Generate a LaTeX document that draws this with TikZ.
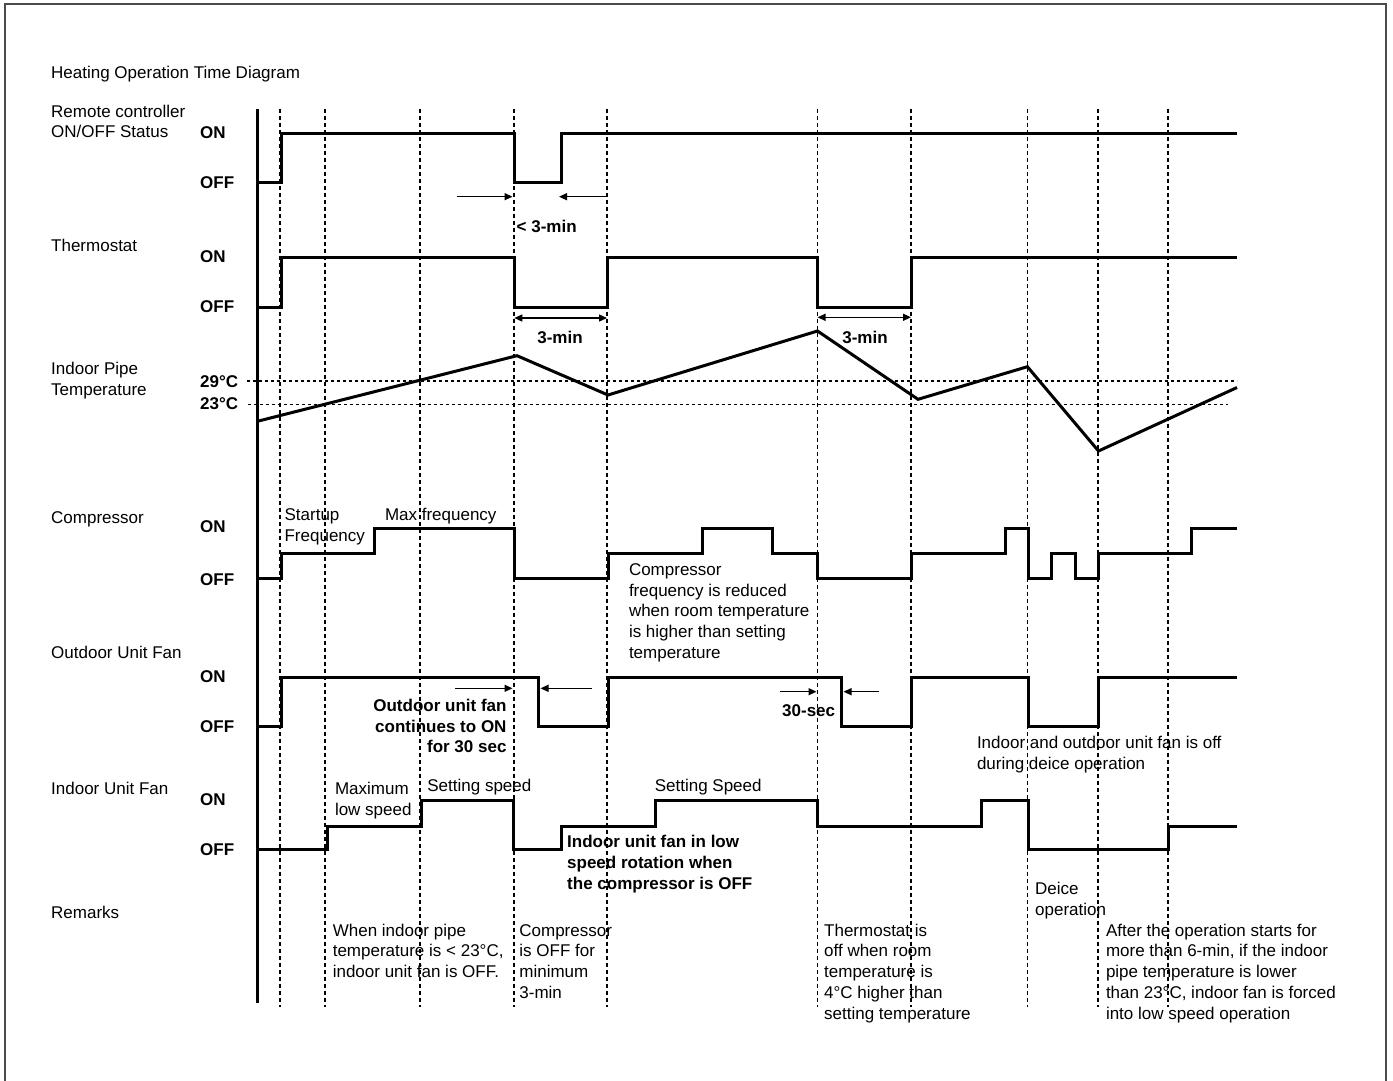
\documentclass[tikz,border=0pt]{standalone}
\usepackage{fontspec}
\setmainfont{Liberation Sans}
\usetikzlibrary{arrows.meta}
\newcommand\tfs{\fontsize{17}{20.7}\selectfont}
\newcommand\lst{\rule{0pt}{14.5pt}}
\begin{document}
\begin{tikzpicture}[x=1pt,y=-1pt,
  sig/.style={line width=3pt},
  gridline/.style={line width=1.1pt,dash pattern=on 4pt off 3pt},
  thr/.style={line width=1.3pt,dash pattern=on 3pt off 3pt},
  dim/.style={line width=1.3pt,-{Triangle[length=8pt,width=7pt]}},
  dimb/.style={line width=1.3pt,{Triangle[length=8pt,width=7pt]}-{Triangle[length=8pt,width=7pt]}},
  lab/.style={anchor=base west,inner sep=0pt,font=\tfs},
  blab/.style={anchor=base west,inner sep=0pt,font=\tfs\bfseries},
  ml/.style={anchor=north west,inner sep=0pt,align=left,font=\tfs},
  bml/.style={anchor=north west,inner sep=0pt,align=left,font=\tfs\bfseries}]
\useasboundingbox (0,0) rectangle (1393,1080);
\fill[white] (0,0) rectangle (1393,1080);
% frame
\draw[line width=2pt,draw=black!70] (4.5,1082) -- (4.5,4) -- (1385.5,4) -- (1385.5,1082);
% grid lines
\foreach \gx in {280,325,420,514,607,817.5,911,1027.5,1098,1168}
  \draw[gridline] (\gx,108.5) -- (\gx,1007);
% threshold lines
\draw[thr] (247,381) -- (1237,381);
\draw[thr] (248,404.5) -- (1228,404.5);
% axis
\draw[line width=3pt] (257.3,109) -- (257.3,1003.3);
% titles
\node[lab] (title) at (51,78.7) {Heating Operation Time Diagram};
\node[ml] (lremote) at (51,102.5) {\lst Remote controller\\\lst ON/OFF Status};
\node[lab] (lthermo) at (51,251) {Thermostat};
\node[ml] (lpipe) at (51,359.8) {\lst Indoor Pipe\\\lst Temperature};
\node[lab] (lcomp) at (51,523.3) {Compressor};
\node[lab] (lout) at (51,658) {Outdoor Unit Fan};
\node[lab] (lin) at (51,794.3) {Indoor Unit Fan};
\node[lab] (lrem) at (51,918.3) {Remarks};
% ON/OFF labels
\node[blab] (ron) at (200,138.3) {ON};
\node[blab] (roff) at (200,188.7) {OFF};
\node[blab] (ton) at (200,262) {ON};
\node[blab] (toff) at (200,312.7) {OFF};
\node[blab] (t29) at (200,387.7) {29°C};
\node[blab] (t23) at (200,409.3) {23°C};
\node[blab] (con) at (200,532.7) {ON};
\node[blab] (coff) at (200,585) {OFF};
\node[blab] (oon) at (200,682) {ON};
\node[blab] (ooff) at (200,732.7) {OFF};
\node[blab] (ion) at (200,805) {ON};
\node[blab] (ioff) at (200,855.3) {OFF};
% waveforms
\draw[sig] (257.3,182.7) -- (281,182.7) -- (281,133.3) -- (514.3,133.3) -- (514.3,182.7) -- (561,182.7) -- (561,133.3) -- (1237.3,133.3);
\draw[sig] (257.3,307) -- (281,307) -- (281,257) -- (514.3,257) -- (514.3,307) -- (607.5,307) -- (607.5,257) -- (817.5,257) -- (817.5,307) -- (911.5,307) -- (911.5,257) -- (1237.3,257);
\draw[sig] (257.3,421.3) -- (517,355.7) -- (608,395) -- (817.5,331) -- (918,399.3) -- (1027.4,366.7) -- (1098.5,451) -- (1237,387.5);
\draw[sig] (257.3,578.5) -- (281,578.5) -- (281,553.5) -- (374,553.5) -- (374,528.7) -- (514.3,528.7) -- (514.3,578.5) -- (608,578.5) -- (608,553.5) -- (702.2,553.5) -- (702.2,528.7) -- (772,528.7) -- (772,553.5) -- (817.5,553.5) -- (817.5,578.5) -- (911.6,578.5) -- (911.6,553.5) -- (1005.2,553.5) -- (1005.2,528.7) -- (1028,528.7) -- (1028,578.5) -- (1051,578.5) -- (1051,553.5) -- (1075,553.5) -- (1075,578.5) -- (1098.5,578.5) -- (1098.5,553.5) -- (1191.3,553.5) -- (1191.3,528.7) -- (1237.3,528.7);
\draw[sig] (257.3,726.5) -- (281,726.5) -- (281,677.5) -- (538.8,677.5) -- (538.8,726.5) -- (608,726.5) -- (608,677.5) -- (841.8,677.5) -- (841.8,726.5) -- (911.6,726.5) -- (911.6,677.5) -- (1028,677.5) -- (1028,726.5) -- (1098.5,726.5) -- (1098.5,677.5) -- (1237.3,677.5);
\draw[sig] (257.3,849.3) -- (327.2,849.3) -- (327.2,826) -- (421,826) -- (421,800.5) -- (513.4,800.5) -- (513.4,849.3) -- (561,849.3) -- (561,826) -- (655,826) -- (655,800.5) -- (817.5,800.5) -- (817.5,826) -- (981.4,826) -- (981.4,800.5) -- (1028,800.5) -- (1028,849.3) -- (1168.5,849.3) -- (1168.5,826) -- (1237.3,826);
% dimension arrows
\coordinate (r1a) at (456.7,196.7); \coordinate (r1b) at (512.5,196.7);
\coordinate (r2a) at (608,196.7);   \coordinate (r2b) at (559,196.7);
\draw[dim] (r1a) -- (r1b);
\draw[dim] (r2a) -- (r2b);
\node[blab] (r3min) at (516.5,232.7) {< 3-min};
\coordinate (t1a) at (514.3,318); \coordinate (t1b) at (607,318);
\draw[dimb] (t1a) -- (t1b);
\node[font=\tfs\bfseries,inner sep=0pt,anchor=base] (t3min1) at (560,343.7) {3-min};
\coordinate (t2a) at (817.5,317.3); \coordinate (t2b) at (911,317.3);
\draw[dimb] (t2a) -- (t2b);
\node[font=\tfs\bfseries,inner sep=0pt,anchor=base] (t3min2) at (865,343.7) {3-min};
\coordinate (o1a) at (455.4,688.3); \coordinate (o1b) at (512.5,688.3);
\coordinate (o2a) at (591.5,688.3); \coordinate (o2b) at (540.5,688.3);
\draw[dim] (o1a) -- (o1b);
\draw[dim] (o2a) -- (o2b);
\node[anchor=north east,inner sep=0pt,align=right,font=\tfs\bfseries] (ocont) at (506.7,696.8) {\lst Outdoor unit fan\\\lst continues to ON\\\lst for 30 sec};
\coordinate (o3a) at (779.6,691.7); \coordinate (o3b) at (816.5,691.7);
\coordinate (o4a) at (878.7,691.7); \coordinate (o4b) at (843.5,691.7);
\draw[dim] (o3a) -- (o3b);
\draw[dim] (o4a) -- (o4b);
\node[blab] (o30) at (782,716.7) {30-sec};
% annotations
\node[ml] (startup) at (284.4,505.8) {\lst Startup\\\lst Frequency};
\node[lab] (maxf) at (384.8,520.3) {Max frequency};
\node[ml] (cfreq) at (628.8,560.8) {\lst Compressor\\\lst frequency is reduced\\\lst when room temperature\\\lst is higher than setting\\\lst temperature};
\node[ml] (deiceoff) at (976.8,734.2) {\lst Indoor and outdoor unit fan is off\\\lst during deice operation};
\node[ml] (maxlow) at (334.8,779.8) {\lst Maximum\\\lst low speed};
\node[lab] (sets1) at (427.2,791) {Setting speed};
\node[lab] (sets2) at (654.6,791.3) {Setting Speed};
\node[bml] (inlow) at (567,833.2) {\lst Indoor unit fan in low\\\lst speed rotation when\\\lst the compressor is OFF};
\node[ml] (rm1) at (332.6,921.5) {\lst When indoor pipe\\\lst temperature is < 23°C,\\\lst indoor unit fan is OFF.};
\node[ml] (rm2) at (519.2,921.5) {\lst Compressor\\\lst is OFF for\\\lst minimum\\\lst 3-min};
\node[ml] (rm3) at (824,921.5) {\lst Thermostat is\\\lst off when room\\\lst temperature is\\\lst 4°C higher than\\\lst setting temperature};
\node[ml] (rm4) at (1035,879.8) {\lst Deice\\\lst operation};
\node[ml] (rm5) at (1105.8,921.5) {\lst After the operation starts for\\\lst more than 6-min, if the indoor\\\lst pipe temperature is lower\\\lst than 23°C, indoor fan is forced\\\lst into low speed operation};
\end{tikzpicture}
\end{document}
